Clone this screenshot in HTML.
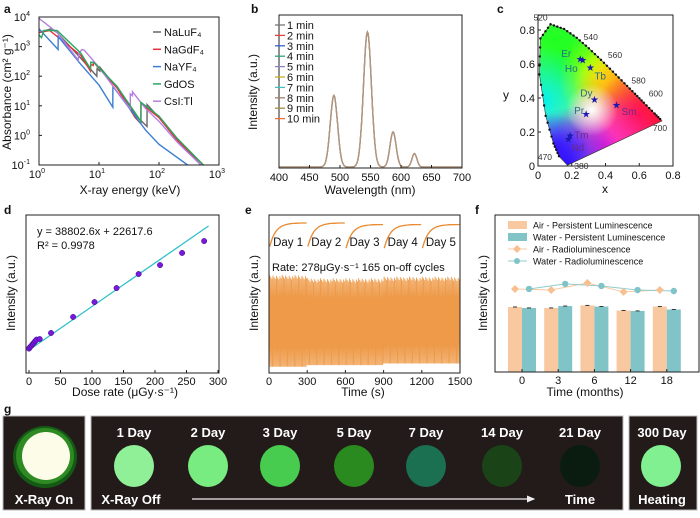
<!DOCTYPE html>
<html><head><meta charset="utf-8"><style>
body{margin:0;background:#fff;}
svg{display:block;font-family:"Liberation Sans",sans-serif;}
</style></head><body>
<svg id="fig" width="700" height="518" viewBox="0 0 700 518" xmlns="http://www.w3.org/2000/svg">
<defs>
<clipPath id="cieclip"><polygon id="ciepoly" points=""/></clipPath>
<radialGradient id="gG" cx="0.5" cy="0.5" r="0.5"><stop offset="0" stop-color="#20ff20"/><stop offset="1" stop-color="#20ff20" stop-opacity="0"/></radialGradient>
<radialGradient id="gB" cx="0.5" cy="0.5" r="0.5"><stop offset="0" stop-color="#3010ff"/><stop offset="1" stop-color="#3010ff" stop-opacity="0"/></radialGradient>
<radialGradient id="gR" cx="0.5" cy="0.5" r="0.5"><stop offset="0" stop-color="#ff1040"/><stop offset="1" stop-color="#ff1040" stop-opacity="0"/></radialGradient>
<radialGradient id="gC" cx="0.5" cy="0.5" r="0.5"><stop offset="0" stop-color="#00f0f0"/><stop offset="1" stop-color="#00f0f0" stop-opacity="0"/></radialGradient>
<radialGradient id="gY" cx="0.5" cy="0.5" r="0.5"><stop offset="0" stop-color="#ffff00"/><stop offset="1" stop-color="#ffff00" stop-opacity="0"/></radialGradient>
<radialGradient id="gM" cx="0.5" cy="0.5" r="0.5"><stop offset="0" stop-color="#ff20d0"/><stop offset="1" stop-color="#ff20d0" stop-opacity="0"/></radialGradient>
<radialGradient id="gW" cx="0.5" cy="0.5" r="0.5"><stop offset="0" stop-color="#ffffff"/><stop offset="1" stop-color="#ffffff" stop-opacity="0"/></radialGradient>
<marker id="arrowhead" markerWidth="8" markerHeight="8" refX="6" refY="3" orient="auto"><path d="M0,0 L7,3 L0,6 Z" fill="#eee"/></marker>
</defs>
</svg>
<script>
// ===== Panel a data =====
const aSeriesNames=["NaLuF4","NaGdF4","NaYF4","GdOS","CsI:Tl"];
const aColors=["#666666","#e8303a","#3a7fd0","#2aa860","#b57de0"];
const aNaLuF4E=[1,1.6,2,5,9.2,9.3,10.3,10.4,20,40,63,63.3,100,200,500];
const aNaLuF4V=[3000,4000,3000,400,100,180,150,200,40,5,2,11,4,0.7,0.1];
const aNaGdF4E=[1,1.5,5,7.2,7.3,8,8.1,20,40,50,50.2,100,200,550];
const aNaGdF4V=[3000,3500,500,150,250,230,300,40,4,2.5,12,4,0.7,0.1];
const aNaYF4E=[1,2.08,2.09,5,10,17,17.05,30,60,100,300];
const aNaYF4V=[4000,800,2200,250,50,9,45,10,1.5,0.5,0.1];
const aGdOSE=[1,1.1,1.2,2,5,7.2,7.3,8.4,20,50,50.2,100,200,550];
const aGdOSV=[2500,2000,3500,3500,600,180,300,280,45,3,13,4.5,0.8,0.1];
const aCsIE=[1,2,4.5,4.6,5.2,5.7,10,20,33.2,33.3,36,36.1,60,100,200,500];
const aCsIV=[9000,3000,350,600,800,750,200,30,8,25,22,30,8,3,0.6,0.1];
const aXTicks=[0,1,2,3];
const aYTicks=[4,3,2,1,0,-1];
// ===== Panel b data =====
const bLegend=["1 min","2 min","3 min","4 min","5 min","6 min","7 min","8 min","9 min","10 min"];
const bColors=["#777","#e84040","#3060d0","#30a080","#9080c0","#c8b020","#40c0c0","#a08070","#a09040","#f07030"];
const bPeakCenters=[490,545,587,622];
const bPeakHeights=[0.53,1.0,0.26,0.10];
const bPeakWidths=[6,6.5,5,4];
const bXTicks=[400,450,500,550,600,650,700];
// ===== Panel c data =====
const cLocusNm=[380,470,480,490,500,510,520,530,540,550,560,570,580,590,600,620,700];
const cLocusX=[0.1741,0.1241,0.0913,0.0454,0.0082,0.0139,0.0743,0.1547,0.2296,0.3016,0.3731,0.4441,0.5125,0.5752,0.627,0.6915,0.7347];
const cLocusY=[0.005,0.0578,0.1327,0.295,0.5384,0.7502,0.8338,0.8059,0.7543,0.6923,0.6245,0.5547,0.4866,0.4242,0.3725,0.3083,0.2653];
const cLabelNm=[520,540,560,580,600,700,470,380];
const cStarNames=["Er","Ho","Tb","Dy","Pr","Sm","Tm","Nd"];
const cStarX=[0.25,0.265,0.31,0.335,0.285,0.465,0.19,0.18];
const cStarY=[0.63,0.625,0.58,0.39,0.305,0.36,0.18,0.16];
const cTicks=[0,0.2,0.4,0.6,0.8];
// ===== Panel d data =====
const dDose=[0,2,4,6,8,10,12,17,35,70,104,139,174,208,243,278];
const dIntensity=[0.15,0.3,0.42,0.55,0.68,0.82,0.95,1.0,1.54,2.97,4.3,5.55,6.8,7.6,8.68,9.74];
const dSlope=0.0388026, dIntercept=0.0226;
const dXTicks=[0,50,100,150,200,250,300];
// ===== Panel e data =====
const eDayStarts=[0,300,600,900,1200];
const eDayLabels=["Day 1","Day 2","Day 3","Day 4","Day 5"];
const ePeakLevels=[0.62,0.60,0.60,0.61,0.61];
const eBaseLevels=[0.04,0.05,0.05,0.06,0.06];
const eCycles=165;
const eInsetLow=[0.80,0.80,0.79,0.79,0.79];
const eInsetHigh=[0.95,0.95,0.94,0.94,0.94];
const eXTicks=[0,300,600,900,1200,1500];
// ===== Panel f data =====
const fCats=["0","3","6","12","18"];
const fAirPL=[0.414,0.408,0.424,0.392,0.417];
const fWaterPL=[0.408,0.420,0.417,0.389,0.398];
const fAirRL=[0.529,0.522,0.567,0.510,0.522];
const fWaterRL=[0.529,0.561,0.548,0.522,0.516];
const fLegend=["Air - Persistent Luminescence","Water - Persistent Luminescence","Air - Radioluminescence","Water - Radioluminescence"];

const NS="http://www.w3.org/2000/svg";
const svg=document.getElementById('fig');
function mk(tag,attrs,parent){const e=document.createElementNS(NS,tag);for(const k in attrs)e.setAttribute(k,attrs[k]);(parent||svg).appendChild(e);return e;}
function txt(s,x,y,size,anchor,parent,extra){const t=mk('text',Object.assign({x:x,y:y,'font-size':size,'text-anchor':anchor||'middle',fill:'#111'},extra||{}),parent);t.textContent=s;return t;}
function grp(parent){return mk('g',{},parent);}

[["a",4,13],["b",251,13],["c",497,13],["d",4,214],["e",245,214],["f",475,214],["g",4,413]].forEach(p=>{
 const t=txt(p[0],p[1],p[2],12,'start',svg,{'font-weight':'bold'});
 
 
});

// ===== Panel a =====
(function(){
 const g=grp();
 const L=39,R=219,T=17,B=165;
 const xs=v=>L+(Math.log10(v)-0)/3*(R-L);
 const ys=v=>T+(4-Math.log10(v))/5*(B-T);
 const E=[aNaLuF4E,aNaGdF4E,aNaYF4E,aGdOSE,aCsIE],V=[aNaLuF4V,aNaGdF4V,aNaYF4V,aGdOSV,aCsIV];
 const cl=mk('clipPath',{id:'clipA'},g);mk('rect',{x:L,y:T,width:R-L,height:B-T},cl);
 const sg=grp(g);sg.setAttribute('clip-path','url(#clipA)');
 [0,1,2,4,3].forEach(i=>{
  const d=E[i].map((e,j)=>(j?'L':'M')+xs(e).toFixed(1)+','+ys(V[i][j]).toFixed(1)).join('');
  const p=mk('path',{d:d,fill:'none',stroke:aColors[i],'stroke-width':1.4},sg);
  
  
 });
 mk('rect',{x:L,y:T,width:R-L,height:B-T,fill:'none',stroke:'#222','stroke-width':1},g);
 aXTicks.forEach(k=>{const x=L+k/3*(R-L);mk('line',{x1:x,x2:x,y1:B,y2:B-3,stroke:'#222'},g);
  const t=txt('10',x-2,B+13,11,'middle',g);const s=mk('tspan',{dy:-5,'font-size':7},t);s.textContent=String(k);
  });
 aYTicks.forEach(k=>{const y=T+(4-k)/5*(B-T);mk('line',{x1:L,x2:L+3,y1:y,y2:y,stroke:'#222'},g);
  const t=txt('10',L-9,y+4,11,'end',g);const s=mk('tspan',{dy:-5,'font-size':7},t);s.textContent=String(k);
  });
 const xt=txt('X-ray energy (keV)',130,194,12,'middle',g);
 const yt=txt('Absorbance (cm² g⁻¹)',0,0,12,'middle',g,{transform:'translate(11,92) rotate(-90)'});
 const labs=["NaLuF₄","NaGdF₄","NaYF₄","GdOS","CsI:Tl"];
 labs.forEach((s,i)=>{const y=32+i*17.3;const lg=grp(g);
  
  mk('line',{x1:153,x2:161,y1:y,y2:y,stroke:aColors[i],'stroke-width':1.5},lg);txt(s,164,y+4,11,'start',lg);});
})();

// ===== Panel b =====
(function(){
 const g=grp();
 const L=279,R=462,T=15,B=168,base=167;
 const xs=v=>L+(v-400)/300*(R-L);const ys=v=>base-v*135;
 let d='';for(let w=400;w<=700;w+=1){let v=0;bPeakCenters.forEach((c,i)=>{v+=bPeakHeights[i]*Math.exp(-0.5*Math.pow((w-c)/bPeakWidths[i],2));});
  d+=(w===400?'M':'L')+xs(w).toFixed(1)+','+ys(v).toFixed(1);}
 [9,0,7].forEach(i=>{const p=mk('path',{d:d,fill:'none',stroke:i===7?'#b09880':bColors[i],'stroke-width':1.3},g);
  });
 mk('rect',{x:L,y:T,width:R-L,height:B-T,fill:'none',stroke:'#222'},g);
 bXTicks.forEach(v=>{const x=xs(v);mk('line',{x1:x,x2:x,y1:B,y2:B-3,stroke:'#222'},g);
  const t=txt(String(v),x,B+13,11,'middle',g);});
 bLegend.forEach((s,i)=>{const y=25+i*10.4;const lg=grp(g);
  mk('line',{x1:275,x2:285,y1:y,y2:y,stroke:bColors[i],'stroke-width':1.3},lg);txt(s,287,y+4,11,'start',lg);});
 const xt=txt('Wavelength (nm)',370,194,12,'middle',g);
 const yt=txt('Intensity (a.u.)',0,0,12,'middle',g,{transform:'translate(257,92) rotate(-90)'});
})();

// ===== Panel c =====
(function(){
 const g=grp();
 const L=538,R=673,T=15,B=166;
 const xs=v=>L+v/0.8*(R-L);const ys=v=>B-v*170;
 const pts=cLocusX.map((x,i)=>xs(x).toFixed(1)+','+ys(cLocusY[i]).toFixed(1)).join(' ');
 document.getElementById('ciepoly').setAttribute('points',pts);
 const fg=grp(g);fg.setAttribute('clip-path','url(#cieclip)');
 mk('rect',{x:L,y:T,width:R-L,height:B-T,fill:'#d8f8c8'},fg);
 const blob=(id,x,y,r)=>mk('ellipse',{cx:xs(x),cy:ys(y),rx:r,ry:r,fill:'url(#'+id+')'},fg);
 blob('gG',0.1,0.75,100);blob('gG',0.2,0.6,70);blob('gG',0.3,0.65,40);blob('gC',0.02,0.38,55);blob('gY',0.45,0.52,55);blob('gY',0.42,0.5,35);blob('gR',0.72,0.27,90);blob('gR',0.6,0.3,45);
 blob('gM',0.4,0.12,55);blob('gB',0.17,0.02,55);blob('gB',0.1,0.1,35);blob('gW',0.32,0.33,26);
 mk('polygon',{points:pts,fill:'none',stroke:'#333','stroke-width':0.6},g);
 for(let i=0;i<cLocusX.length-1;i++){for(let k=0;k<4;k++){const f=k/4;const x=cLocusX[i]+(cLocusX[i+1]-cLocusX[i])*f,y=cLocusY[i]+(cLocusY[i+1]-cLocusY[i])*f;
  if(i===0)continue;mk('circle',{cx:xs(x),cy:ys(y),r:1.2,fill:'#111'},g);}}
 const lpos={520:[-10,-4],540:[14,2],560:[14,-2],580:[14,0],600:[12,-6],700:[-2,10],470:[-14,4],380:[14,4]};
 cLabelNm.forEach(nm=>{const i=cLocusNm.indexOf(nm);const o=lpos[nm];
  const t=txt(String(nm),xs(cLocusX[i])+o[0],ys(cLocusY[i])+o[1],8.5,'middle',g,{fill:'#333'});});
 const loff={Er:[-9,-2,'end'],Ho:[-5,12,'end'],Tb:[4,12,'start'],Dy:[-2,-3,'end'],Pr:[-2,0,'end'],Sm:[5,10,'start'],Tm:[4,3,'start'],Nd:[3,12,'start']};
 cStarNames.forEach((n,i)=>{const x=xs(cStarX[i]),y=ys(cStarY[i]);
  const s=txt('★',x,y+3.5,10,'middle',g,{fill:'#1a1ab0'});
  const o=loff[n];const t=txt(n,x+o[0],y+o[1],10,o[2],g,{fill:n==='Sm'||n==='Tm'||n==='Nd'?'#6a2a8a':'#2a6a8a'});});
 mk('rect',{x:L,y:T,width:R-L,height:B-T,fill:'none',stroke:'#222'},g);
 cTicks.forEach(v=>{const x=xs(v);mk('line',{x1:x,x2:x,y1:B,y2:B-3,stroke:'#222'},g);
  const t=txt(String(v),x,B+13,11,'middle',g);
  const y=ys(v);mk('line',{x1:L,x2:L+3,y1:y,y2:y,stroke:'#222'},g);
  const t2=txt(String(v),L-3,y+4,11,'end',g);});
 const xt=txt('x',605,193,12,'middle',g);
 const yt=txt('y',506,99,12,'middle',g);
})();

// ===== Panel d =====
(function(){
 const g=grp();
 const L=26,R=219,T=215,B=373;
 const xs=v=>29+v/300*(218-29);const ys=v=>350-(v-dIntercept)/0.0892;
 const fl=mk('line',{x1:xs(0),y1:ys(dIntercept),x2:xs(285),y2:ys(dSlope*285+dIntercept),stroke:'#30c0c8','stroke-width':1.3},g);
 
 dDose.forEach((x,i)=>{const c=mk('circle',{cx:xs(x),cy:ys(dIntensity[i]),r:2.7,fill:'#7a18e0',stroke:'#3a0a80','stroke-width':0.5},g);
  });
 mk('rect',{x:L,y:T,width:R-L,height:B-T,fill:'none',stroke:'#222'},g);
 dXTicks.forEach(v=>{const x=xs(v);mk('line',{x1:x,x2:x,y1:B,y2:B-3,stroke:'#222'},g);
  const t=txt(String(v),x,B+12,11,'middle',g);});
 const e1=txt('y = 38802.6x + 22617.6',37,235,11,'start',g);
 const e2=txt('R² = 0.9978',37,249,11,'start',g);
 const xt=txt('Dose rate (μGy·s⁻¹)',125,396,12,'middle',g);
 const yt=txt('Intensity (a.u.)',0,0,12,'middle',g,{transform:'translate(15,293) rotate(-90)'});
})();

// ===== Panel e =====
(function(){
 const g=grp();
 const L=269,R=460,T=215,B=373;
 const xs=v=>L+v/1500*(R-L);const ys=v=>B-v*(B-T);
 const period=1500/eCycles;let d='';
 for(let c=0;c<eCycles;c++){const t0=c*period;const day=Math.min(4,Math.floor(t0/300));
  const jit=((c*37)%11)/11*0.03;
  d+=(c?'L':'M')+xs(t0).toFixed(2)+','+ys(eBaseLevels[day]).toFixed(1)+'L'+xs(t0+period*0.45).toFixed(2)+','+ys(ePeakLevels[day]-jit).toFixed(1);}
 const p=mk('path',{d:d,fill:'none',stroke:'#ee9a48','stroke-width':0.9},g);
 eDayStarts.forEach((s,i)=>{let cd='';for(let k=0;k<=20;k++){const f=k/20;const x=xs(s+5+f*290);const y=ys(eInsetLow[i]+(eInsetHigh[i]-eInsetLow[i])*(1-Math.exp(-6*f)));cd+=(k?'L':'M')+x.toFixed(1)+','+y.toFixed(1);}
  const c=mk('path',{d:cd,fill:'none',stroke:'#e88a30','stroke-width':1.3},g);
  const t=txt(eDayLabels[i],xs(s+150),246,11.5,'middle',g);});
 const rt=txt('Rate: 278μGy·s⁻¹  165 on-off cycles',272,271,11,'start',g);
 mk('rect',{x:L,y:T,width:R-L,height:B-T,fill:'none',stroke:'#222'},g);
 eXTicks.forEach(v=>{const x=xs(v);mk('line',{x1:x,x2:x,y1:B,y2:B-3,stroke:'#222'},g);
  const t=txt(String(v),x,B+12,11,'middle',g);});
 const xt=txt('Time (s)',363,396,12,'middle',g);
 const yt=txt('Intensity (a.u.)',0,0,12,'middle',g,{transform:'translate(258,293) rotate(-90)'});
})();

// ===== Panel f =====
(function(){
 const g=grp();
 const L=495,R=699,T=215,B=372;
 const cx=i=>522+i*36.2;const ys=v=>B-v*(B-T);const bw=14;
 fCats.forEach((c,i)=>{
  const a=mk('rect',{x:cx(i)-bw,y:ys(fAirPL[i]),width:bw,height:B-ys(fAirPL[i]),fill:'#f8c8a0'},g);
  const w=mk('rect',{x:cx(i),y:ys(fWaterPL[i]),width:bw,height:B-ys(fWaterPL[i]),fill:'#80c4c8'},g);
  mk('line',{x1:cx(i)-bw/2-2,x2:cx(i)-bw/2+2,y1:ys(fAirPL[i]),y2:ys(fAirPL[i]),stroke:'#333'},g);
  mk('line',{x1:cx(i)+bw/2-2,x2:cx(i)+bw/2+2,y1:ys(fWaterPL[i]),y2:ys(fWaterPL[i]),stroke:'#333'},g);
 });
 const ad=fAirRL.map((v,i)=>(i?'L':'M')+(cx(i)-bw/2)+','+ys(v)).join('');
 const wd=fWaterRL.map((v,i)=>(i?'L':'M')+(cx(i)+bw/2)+','+ys(v)).join('');
 const al=mk('path',{d:ad,fill:'none',stroke:'#f8c8a0','stroke-width':1},g);
 const wl=mk('path',{d:wd,fill:'none',stroke:'#90cccc','stroke-width':1},g);
 fAirRL.forEach((v,i)=>{const x=cx(i)-bw/2,y=ys(v);const m=mk('polygon',{points:`${x},${y-4} ${x+4},${y} ${x},${y+4} ${x-4},${y}`,fill:'#f8c090'},g);});
 fWaterRL.forEach((v,i)=>{const m=mk('circle',{cx:cx(i)+bw/2,cy:ys(v),r:3.2,fill:'#80c4c8'},g);});
 mk('rect',{x:L,y:T,width:R-L,height:B-T,fill:'none',stroke:'#222'},g);
 fCats.forEach((c,i)=>{mk('line',{x1:cx(i),x2:cx(i),y1:B,y2:B-3,stroke:'#222'},g);
  const t=txt(c,cx(i),B+12,11,'middle',g);});
 fLegend.forEach((s,i)=>{const y=225+i*12;const lg=grp(g);
  if(i<2)mk('rect',{x:508,y:y-4,width:19,height:8,fill:i?'#80c4c8':'#f8c8a0'},lg);
  else{mk('line',{x1:508,x2:527,y1:y,y2:y,stroke:i===2?'#f8c8a0':'#90cccc'},lg);
   if(i===2)mk('polygon',{points:`517,${y-4} 521,${y} 517,${y+4} 513,${y}`,fill:'#f8c090'},lg);else mk('circle',{cx:517,cy:y,r:3,fill:'#80c4c8'},lg);}
  txt(s,533,y+3.5,9,'start',lg);});
 const xt=txt('Time (months)',585,396,12,'middle',g);
 const yt=txt('Intensity (a.u.)',0,0,12,'middle',g,{transform:'translate(487,293) rotate(-90)'});
})();

// ===== Panel g =====
const gDays=["1 Day","2 Day","3 Day","5 Day","7 Day","14 Day","21 Day"];
const gDayColors=["#90f098","#78ec80","#48cc50","#2a8a20","#1a7050","#1a4418","#0a1c10"];
(function(){
 const g=grp();
 const boxes=[[3,85],[91,623],[629,697]];
 boxes.forEach((b,i)=>{const r=mk('rect',{x:b[0],y:416,width:b[1]-b[0],height:94,fill:'#231a1a',stroke:'#bbb','stroke-width':1},g);});
 const o=mk('ellipse',{cx:45,cy:457,rx:32,ry:31,fill:'#145a14'},g);
 mk('ellipse',{cx:45,cy:456,rx:29,ry:28,fill:'#2e8a22'},g);
 mk('ellipse',{cx:46,cy:456,rx:24,ry:24,fill:'#fcfce8'},g);
 const centers=[134,208,280,354,426,502,580];
 const bold={'fill':'#fff','font-weight':'bold'};
 gDays.forEach((s,i)=>{const c=mk('ellipse',{cx:centers[i],cy:466,rx:20,ry:21,fill:gDayColors[i]},g);
  const t=txt(s,centers[i],437,13,'middle',g,bold);});
 const h=mk('ellipse',{cx:661,cy:466,rx:20,ry:21,fill:'#80f090'},g);
 const t3=txt('300 Day',662,437,13,'middle',g,bold);
 [['X-Ray On',44],['X-Ray Off',131],['Time',580],['Heating',662]].forEach(p=>{const t=txt(p[0],p[1],504,13,'middle',g,bold);});
 const a=mk('line',{x1:192,y1:499,x2:534,y2:499,stroke:'#eee','stroke-width':1.2,'marker-end':'url(#arrowhead)'},g);
})();
</script>
</body></html>
